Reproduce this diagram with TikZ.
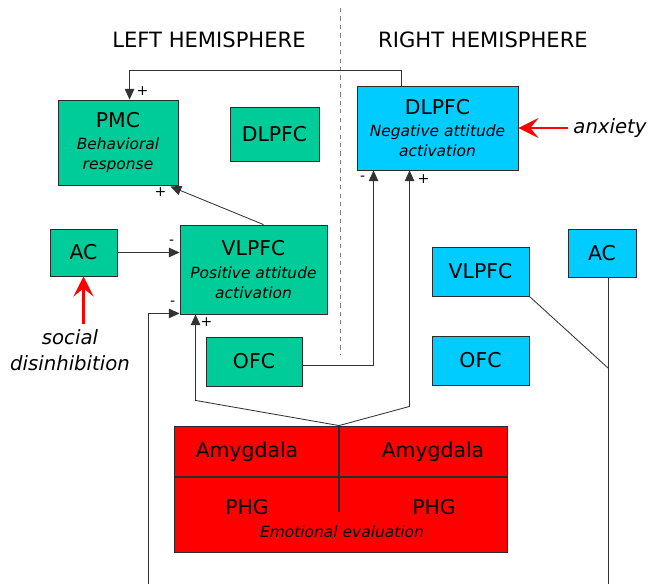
\documentclass[tikz,border=0pt]{standalone}
\usepackage{fontspec}
\setmainfont{DejaVu Sans}
\usetikzlibrary{arrows.meta,positioning,calc}
\definecolor{lhem}{HTML}{00CC99}
\definecolor{rhem}{HTML}{00CCFF}
\definecolor{emored}{HTML}{FF0000}
\definecolor{edge}{HTML}{2B2B2B}
\definecolor{ln}{HTML}{333333}
\newcommand\lblfont{\fontsize{14.5}{17}\selectfont}
\newcommand\subfont{\fontsize{11}{14}\selectfont\itshape}
\tikzset{
  >={Triangle[length=2.7mm,width=2.4mm]},
  area/.style={draw=edge, line width=0.6pt, align=center, inner sep=0pt, font=\lblfont},
  lh/.style={area, fill=lhem},
  rh/.style={area, fill=rhem},
  flow/.style={->, draw=ln, line width=0.6pt},
  link/.style={draw=ln, line width=0.6pt},
  cue/.style={-{Stealth[length=5mm,width=5mm,inset=2mm]}, draw=red, line width=2pt},
  sign/.style={font=\fontsize{10}{10}\selectfont, inner sep=0pt},
  note/.style={font=\fontsize{14}{18.5}\selectfont\itshape, align=center},
  hemi/.style={font=\fontsize{15}{18}\selectfont},
}

\begin{document}
\begin{tikzpicture}[x=0.025cm, y=-0.025cm]
\useasboundingbox (0,0) rectangle (650,584);

% hemispheres
\node[hemi] (lefthemi) at (209,40) {LEFT HEMISPHERE};
\node[hemi] (righthemi) at (483,40) {RIGHT HEMISPHERE};
\coordinate (midtop) at (340,8);
\coordinate (midbot) at (340,355);
\draw[dashed, draw=gray, line width=0.7pt] (midtop) -- (midbot);

% left hemisphere
\node[lh, minimum width=3cm, minimum height=2.125cm] (pmc) at (118,142.5) {PMC\\[-1pt]{\subfont Behavioral}\\[-3pt]{\subfont response}};
\node[lh, minimum width=2.225cm, minimum height=1.35cm] (dlpfcL) at (274.5,134) {DLPFC};
\node[lh, minimum width=1.675cm, minimum height=1.175cm] (acL) at (83.5,252.5) {AC};
\node[lh, minimum width=3.675cm, minimum height=2.225cm] (vlpfcL) at (253.5,269.5) {VLPFC\\[-1pt]{\subfont Positive attitude}\\[-3pt]{\subfont activation}};
\node[lh, minimum width=2.4cm, minimum height=1.225cm] (ofcL) at (254,361.5) {OFC};

% right hemisphere
\node[rh, minimum width=4.025cm, minimum height=2.1cm] (dlpfcR) at (437.5,128) {DLPFC\\[-1pt]{\subfont Negative attitude}\\[-3pt]{\subfont activation}};
\node[rh, minimum width=2.425cm, minimum height=1.225cm] (vlpfcR) at (480.5,271.5) {VLPFC};
\node[rh, minimum width=2.425cm, minimum height=1.225cm] (ofcR) at (480.5,360.5) {OFC};
\node[rh, minimum width=1.7cm, minimum height=1.2cm] (acR) at (602,253) {AC};

% limbic block
\node[area, fill=emored, minimum width=8.325cm, minimum height=3.15cm] (emo) at (340.5,489) {};
\draw[draw=edge, line width=0.8pt] ($(emo.north west)!0.405!(emo.south west)$) -- ($(emo.north east)!0.405!(emo.south east)$);
\draw[draw=edge, line width=0.8pt] ($(emo.north)+(-1.5,0)$) -- ($(emo.north)+(-1.5,86)$);
\node[font=\lblfont] (amyL) at (247,452) {Amygdala};
\node[font=\lblfont] (amyR) at (433,452) {Amygdala};
\node[font=\lblfont] (phgL) at (247,507) {PHG};
\node[font=\lblfont] (phgR) at (434,507) {PHG};
\node[font=\subfont] (emolbl) at (342,532) {Emotional evaluation};

% cues
\node[note] (anx) at (610,128) {anxiety};
\node[note] (social) at (70,350) {social\\disinhibition};
\draw[cue] (anx.west) -- (dlpfcR.east);
\draw[cue] (acL.south |- social.north) -- (acL.south);

% arrow ends
\coordinate (pmcTop) at ($(pmc.north west)+(72,0)$);
\coordinate (pmcBot) at ($(pmc.south east)+(-8,1)$);
\coordinate (vlIn) at ($(vlpfcL.south west)+(0,-1)$);
\coordinate (vlBot) at ($(vlpfcL.south west)+(16,0)$);
\coordinate (dlNeg) at ($(dlpfcR.south west)+(17,0)$);
\coordinate (dlPos) at ($(dlpfcR.south west)+(53,0)$);
\coordinate (botL) at (148,584);
\coordinate (botR) at (608,584);
\coordinate (joinR) at (608,368);

% connections
\draw[flow] ($(dlpfcR.north west)+(45,0)$) -- ++(0,-15) -| (pmcTop);
\draw[flow] ($(vlpfcL.north)+(10,0)$) -- (pmcBot);
\draw[flow] (acL.east) -- (vlpfcL.west |- acL.east);
\draw[flow] (botL) |- (vlIn);
\draw[flow] ($(emo.north)+(-1.5,0)$) -- ($(vlBot)+(0,86)$) -- (vlBot);
\draw[flow] ($(emo.north)+(-1.5,0)$) -- ($(dlPos)+(0,236)$) -- (dlPos);
\draw[flow] (ofcL.east |- 0,365) -| (dlNeg);
\draw[link] ($(acR.south)+(6,0)$) -- (botR);
\draw[link] (vlpfcR.south east) -- (joinR);

% signs
\node[sign] (s1) at ($(pmcTop)+(13,-8)$) {+};
\node[sign] (s2) at ($(pmcBot)+(-10,6)$) {+};
\node[sign] (s3) at ($(vlpfcL.west |- acL.east)+(-8,-10)$) {-};
\node[sign] (s4) at ($(vlIn)+(-7,-10)$) {-};
\node[sign] (s5) at ($(vlBot)+(11,8)$) {+};
\node[sign] (s6) at ($(dlNeg)+(-11,8)$) {-};
\node[sign] (s7) at ($(dlPos)+(14,9)$) {+};

\end{tikzpicture}
\end{document}
